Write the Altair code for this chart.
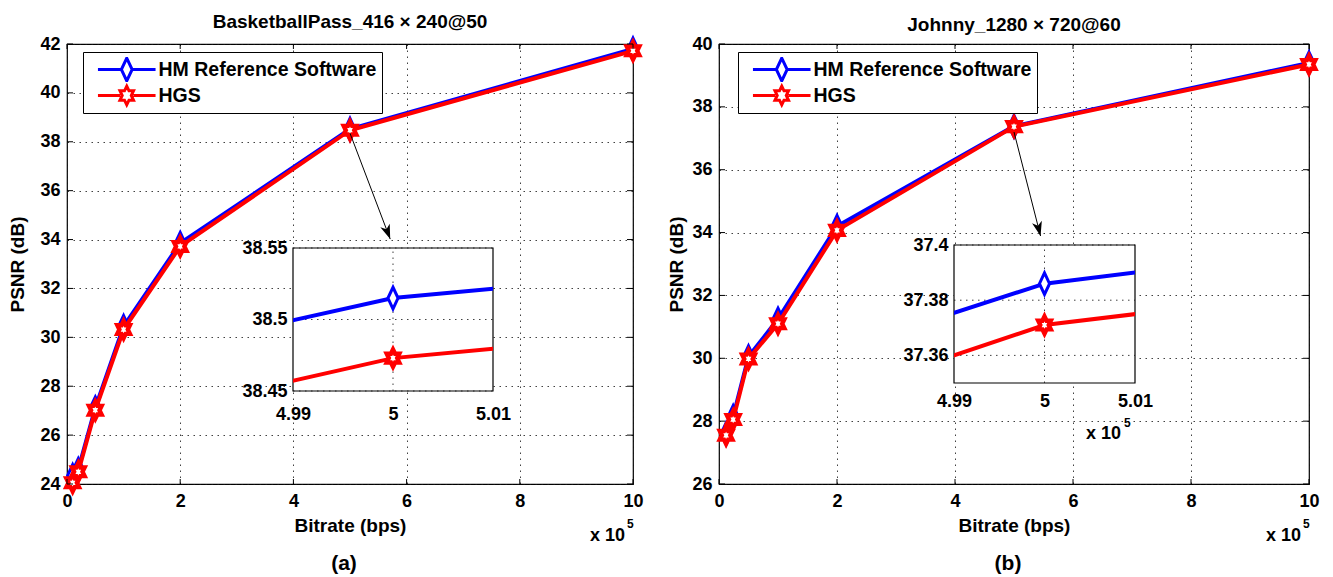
import math
import altair as alt
import pandas as pd

FONT = "Liberation Sans"
SERIES = ["HM Reference Software", "HGS"]
COLORS = ["#0000ff", "#ff0000"]

# ---- data (bitrate in units of 1e5 bps, PSNR in dB) ----
rate_a = [0.1, 0.2, 0.5, 1.0, 2.0, 5.0, 10.0]
hm_a = [24.35, 24.6, 27.12, 30.45, 33.85, 38.515, 41.8]
hgs_a = [24.05, 24.5, 27.02, 30.32, 33.72, 38.473, 41.72]

rate_b = [0.12, 0.24, 0.5, 1.0, 2.0, 5.0, 10.0]
hm_b = [27.6, 28.15, 30.05, 31.25, 34.2, 37.386, 39.4]
hgs_b = [27.55, 28.05, 29.98, 31.1, 34.07, 37.371, 39.35]

x_ticks = [0, 2, 4, 6, 8, 10]
y_ticks_a = [24, 26, 28, 30, 32, 34, 36, 38, 40, 42]
y_ticks_b = [26, 28, 30, 32, 34, 36, 38, 40]

zoom_x_ticks = [4.99, 5.0, 5.01]
zoom_y_ticks_a = [38.45, 38.5, 38.55]
zoom_y_ticks_b = [37.36, 37.38, 37.4]
zoom_y_domain_b = [37.35, 37.4]

# arrow from the 5e5 point down to the zoomed view (data coordinates)
arrow_a = [[5.0, 38.35], [5.71, 34.02]]
arrow_b = [[5.0, 37.2], [5.45, 33.89]]


# ---- marker shapes (custom SVG paths, unit = sqrt(size)/2 px) ----
def hexagram(ry, sx):
    pts = []
    for k in range(12):
        ang = math.radians(-90 + 30 * k)
        r = ry if k % 2 == 0 else ry / math.sqrt(3)
        pts.append((sx * r * math.cos(ang), r * math.sin(ang)))
    return "M" + "L".join(f"{x:.3f},{y:.3f}" for x, y in pts) + "Z"


DIAMOND = "M0,-0.9L0.42,0L0,0.9L-0.42,0Z"
STAR = hexagram(0.72, 0.84)
MSIZE = 576
# legend symbols: line + marker, drawn at a quarter of the size so coordinates are doubled
LEG_DIAMOND = "M-4.8,0L-0.9,0M0.9,0L4.8,0M0,-1.9L0.9,0L0,1.9L-0.9,0Z"
LEG_STAR = "M-4.8,0L-1.1,0M1.1,0L4.8,0" + hexagram(1.55, 0.84)
LEG_SIZE = 144
ARROW_HEAD = "M0,0L-0.45,-1.3L0,-0.95L0.45,-1.3Z"

GRID = dict(grid=True, gridDash=[1.5, 4.5], gridColor="#111111", gridOpacity=0.8, gridWidth=1)
DOTS = dict(color="#111111", strokeWidth=1, strokeDash=[1.5, 4.5], opacity=0.8)


def text_layer(txt, x, y, size, align="left"):
    return alt.Chart(pd.DataFrame({"t": [txt]})).mark_text(
        font=FONT, fontSize=size, fontWeight="bold", align=align, baseline="middle", color="black"
    ).encode(x=alt.value(x), y=alt.value(y), text="t:N")


def series_layers(rate, hm, hgs, X, Y, clip=False):
    layers = []
    for vals, col, shp, sw in ((hm, COLORS[0], DIAMOND, 3), (hgs, COLORS[1], STAR, 4.4)):
        df = pd.DataFrame({"x": rate, "y": vals})
        layers.append(alt.Chart(df).mark_line(color=col, strokeWidth=4, clip=clip).encode(x=X(), y=Y()))
        layers.append(alt.Chart(df).mark_point(
            shape=shp, size=MSIZE, filled=True, fill="white", stroke=col, strokeWidth=sw,
            opacity=1, clip=clip).encode(x=X(), y=Y()))
    return layers


def panel(title, label, rate, hm, hgs, y_ticks, W, H, y_title_pad, legend_xy, arrow,
          zoom_box, zoom_y_ticks, zoom_y_domain, zoom_label_pad, zoom_exponent):
    x_scale = alt.Scale(domain=[0, 10], nice=False)
    y_scale = alt.Scale(domain=[y_ticks[0], y_ticks[-1]], nice=False)
    axis_x = alt.Axis(values=x_ticks, title="Bitrate (bps)", format="d", ticks=False, domain=False,
                      labelFlush=False, labelOverlap=False, labelPadding=8, titlePadding=6, **GRID)
    axis_y = alt.Axis(values=y_ticks, title="PSNR (dB)", format="d", ticks=False, domain=False,
                      labelFlush=False, labelOverlap=False, labelPadding=7, titlePadding=y_title_pad, **GRID)

    def X():
        return alt.X("x:Q", scale=x_scale, axis=axis_x)

    def Y():
        return alt.Y("y:Q", scale=y_scale, axis=axis_y)

    # inward tick marks on all four sides of the box
    xt = pd.DataFrame({"x": x_ticks})
    yt = pd.DataFrame({"y": y_ticks})
    tick_style = dict(color="black", strokeWidth=1)
    ticks = [
        alt.Chart(xt).mark_rule(**tick_style).encode(x=X(), y=alt.value(H), y2=alt.value(H - 5)),
        alt.Chart(xt).mark_rule(**tick_style).encode(x=X(), y=alt.value(0), y2=alt.value(5)),
        alt.Chart(yt).mark_rule(**tick_style).encode(y=Y(), x=alt.value(0), x2=alt.value(6)),
        alt.Chart(yt).mark_rule(**tick_style).encode(y=Y(), x=alt.value(W), x2=alt.value(W - 6)),
    ]

    # arrow pointing at the zoomed region
    px_x = W / 10.0
    px_y = H / (y_ticks[-1] - y_ticks[0])
    dxp = (arrow[1][0] - arrow[0][0]) * px_x
    dyp = -(arrow[1][1] - arrow[0][1]) * px_y
    ang = math.degrees(math.atan2(-dxp, dyp)) % 360
    arr_df = pd.DataFrame({"x": [arrow[0][0], arrow[1][0]], "y": [arrow[0][1], arrow[1][1]]})
    head_df = pd.DataFrame({"x": [arrow[1][0]], "y": [arrow[1][1]]})
    arrow_layers = [
        alt.Chart(arr_df).mark_line(color="black", strokeWidth=1).encode(x=X(), y=Y()),
        alt.Chart(head_df).mark_point(shape=ARROW_HEAD, size=500, angle=ang, filled=True,
                                      fill="black", strokeWidth=0, opacity=1).encode(x=X(), y=Y()),
    ]

    legend = alt.Legend(
        orient="none", legendX=legend_xy[0], legendY=legend_xy[1], title=None, direction="vertical",
        symbolSize=LEG_SIZE, symbolStrokeWidth=3, symbolFillColor="white",
        labelFont=FONT, labelFontSize=19.5, labelFontWeight="bold", labelColor="black",
        labelExpr="datum.label + '\u2002\u2002'",
        strokeColor="black", fillColor="white", padding=5, rowPadding=1, clipHeight=25,
        symbolOffset=29, labelOffset=22, labelLimit=400, offset=0,
    )
    legend_layer = alt.Chart(pd.DataFrame({"series": SERIES})).transform_filter("false").mark_point(
        filled=True, fill="white", strokeWidth=3, opacity=1
    ).encode(
        stroke=alt.Stroke("series:N", scale=alt.Scale(domain=SERIES, range=COLORS), legend=legend),
        shape=alt.Shape("series:N", scale=alt.Scale(domain=SERIES, range=[LEG_DIAMOND, LEG_STAR]), legend=legend),
    )

    notes = [
        text_layer("x 10", W - 8, H + 52, 18, align="right"),
        text_layer("5", W - 6, H + 40, 12),
        text_layer(label, W / 2 - 6, H + 80, 21, align="center"),
    ]

    main = alt.layer(*(series_layers(rate, hm, hgs, X, Y) + ticks + arrow_layers + notes + [legend_layer]))

    # zoomed view around 5e5 bps, drawn on its own scales inside the same plot area
    zx, zy, zw, zh = zoom_box
    zx_scale = alt.Scale(domain=[zoom_x_ticks[0], zoom_x_ticks[-1]], nice=False, range=[zx, zx + zw])
    zy_scale = alt.Scale(domain=zoom_y_domain, nice=False, range=[zy + zh, zy])
    zaxis_x = alt.Axis(values=zoom_x_ticks, format=".2~f", title=None, ticks=False, domain=False, grid=False,
                       labelFlush=False, labelOverlap=False, labelPadding=zoom_label_pad, orient="bottom",
                       offset=-(H - zy - zh))
    zaxis_y = alt.Axis(values=zoom_y_ticks, format=".2~f", title=None, ticks=False, domain=False, grid=False,
                       labelFlush=False, labelOverlap=False, labelPadding=6, orient="left", offset=-zx)

    def ZX():
        return alt.X("x:Q", scale=zx_scale, axis=zaxis_x)

    def ZY():
        return alt.Y("y:Q", scale=zy_scale, axis=zaxis_y)

    box_clip = alt.ExprRef(expr=f"pathShape('M{zx},{zy}h{zw}v{zh}h{-zw}z')")

    box_df = pd.DataFrame({"x": [zoom_x_ticks[0]], "x2": [zoom_x_ticks[-1]],
                           "y": [zoom_y_domain[0]], "y2": [zoom_y_domain[1]]})
    box = alt.Chart(box_df).mark_rect(fill="white", stroke="black", strokeWidth=1.2).encode(
        x=ZX(), x2="x2:Q", y=ZY(), y2="y2:Q")
    vgrid = alt.Chart(pd.DataFrame({"x": [zoom_x_ticks[1]], "y": [zoom_y_domain[0]], "y2": [zoom_y_domain[1]]})
                      ).mark_rule(**DOTS).encode(x=ZX(), y=ZY(), y2="y2:Q")
    hgrid = alt.Chart(pd.DataFrame({"y": zoom_y_ticks, "x": [zoom_x_ticks[0]] * len(zoom_y_ticks),
                                    "x2": [zoom_x_ticks[-1]] * len(zoom_y_ticks)})
                      ).mark_rule(**DOTS).encode(y=ZY(), x=ZX(), x2="x2:Q")

    zlayers = [box, vgrid, hgrid] + series_layers(rate, hm, hgs, ZX, ZY, clip=box_clip)
    if zoom_exponent:
        zlayers += [text_layer("x 10", zx + zw - 14, zy + zh + 51, 18, align="right"),
                    text_layer("5", zx + zw - 11, zy + zh + 40, 12)]
    zoom = alt.layer(*zlayers)

    return alt.layer(main, zoom).resolve_scale(x="independent", y="independent").resolve_axis(
        x="independent", y="independent"
    ).properties(
        width=W, height=H,
        title=alt.TitleParams(title, font=FONT, fontSize=19, fontWeight="bold", frame="group",
                              anchor="middle", offset=0, color="black"),
    )


H = 440
panel_a = panel("BasketballPass_416 × 240@50", "(a)", rate_a, hm_a, hgs_a, y_ticks_a, 566, H, 12,
                (16, 8), arrow_a, (226, 204, 200, 143), zoom_y_ticks_a,
                [zoom_y_ticks_a[0], zoom_y_ticks_a[-1]], 14, False)
panel_b = panel("Johnny_1280 × 720@60", "(b)", rate_b, hm_b, hgs_b, y_ticks_b, 590, H, 5,
                (19, 8), arrow_b, (235, 201, 181, 138), zoom_y_ticks_b, zoom_y_domain_b, 9, True)

chart = alt.hconcat(panel_a, panel_b, spacing=18).resolve_scale(
    stroke="independent", shape="independent"
).properties(
    padding={"left": 8, "top": 12, "right": 0, "bottom": 0},
    background="white",
).configure_view(
    stroke="black", strokeWidth=1.2
).configure_axis(
    labelFont=FONT, titleFont=FONT, labelFontWeight="bold", titleFontWeight="bold",
    labelColor="black", titleColor="black", labelFontSize=18, titleFontSize=19,
)

chart.save("out.html", embed_options={"renderer": "svg", "actions": False})
